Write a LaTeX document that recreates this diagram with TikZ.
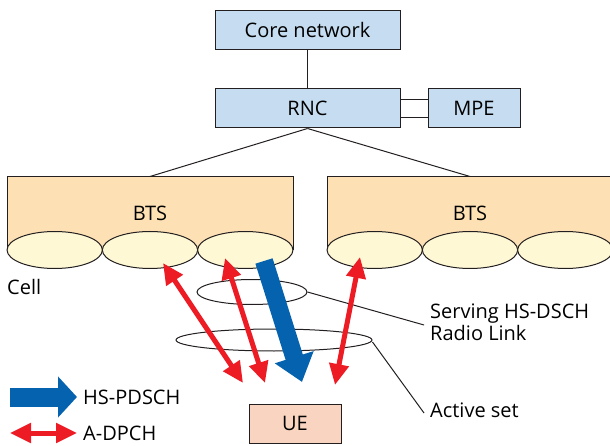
\documentclass[tikz,border=0pt]{standalone}
\usepackage{fontspec}
\setmainfont{Open Sans}
\usetikzlibrary{shapes.geometric,arrows.meta}
\definecolor{boxblue}{HTML}{C6DDF1}
\definecolor{btsfill}{HTML}{FDE1B4}
\definecolor{cellfill}{HTML}{FFF8D5}
\definecolor{uefill}{HTML}{F9D4C0}
\definecolor{dpchred}{HTML}{ED1C24}
\definecolor{hsblue}{HTML}{0462AE}
\definecolor{linegray}{HTML}{231F20}
\tikzset{
  every node/.style={font=\fontsize{20}{22}\selectfont, text=black},
  netbox/.style={draw=linegray, line width=1pt, fill=boxblue, minimum width=185pt, minimum height=39pt, inner sep=0pt},
  btsbox/.style={draw=linegray, line width=1pt, fill=btsfill, minimum width=286pt, minimum height=73pt, inner sep=0pt},
  cell/.style={ellipse, draw=linegray, line width=1pt, fill=cellfill, minimum width=95.3pt, minimum height=37pt, inner sep=0pt},
  ring/.style={ellipse, draw=linegray, line width=1pt, inner sep=0pt},
  wire/.style={draw=linegray, line width=1pt},
  dpch/.style={draw=dpchred, line width=5pt, {Triangle[length=21pt,width=19pt]}-{Triangle[length=21pt,width=19pt]}},
  hsdsch/.style={draw=hsblue, line width=18pt, -{Triangle[length=26pt,width=39pt]}}
}
\begin{document}
\begin{tikzpicture}[x=1pt,y=-1pt]
\useasboundingbox (0,0) rectangle (610,446);
\clip (0,0) rectangle (610,446);

% network side
\node[netbox] (core) at (307.5,30.5) {Core network};
\node[netbox] (rnc) at (307.5,108.5) {RNC};
\node[netbox, minimum width=92pt] (mpe) at (474,108.5) {MPE};
\draw[wire] (core) -- (rnc);
\draw[wire] ([yshift=9pt]rnc.east) -- ([yshift=9pt]mpe.west);
\draw[wire] ([yshift=-9pt]rnc.east) -- ([yshift=-9pt]mpe.west);

% base stations
\node[btsbox] (btsL) at (150,213.5) {BTS};
\node[btsbox] (btsR) at (470,213.5) {BTS};
\draw[wire] (rnc.south) -- (btsL.north);
\draw[wire] (rnc.south) -- (btsR.north);

\node[cell] (cellL1) at (54.7,250) {};
\node[cell] (cellL2) at (150,250) {};
\node[cell] (cellL3) at (245.3,250) {};
\node[cell] (cellR1) at (374.7,250) {};
\node[cell] (cellR2) at (470,250) {};
\node[cell] (cellR3) at (565.3,250) {};
\node[anchor=west, inner sep=0pt] (celllbl) at (7,287) {Cell};

% serving link and active set
\node[ring, minimum width=110pt, minimum height=25pt] (srvring) at (252,292) {};
\node[ring, minimum width=196pt, minimum height=22pt] (actring) at (274,340) {};
\node[anchor=west, align=left, inner sep=0pt] (srvlbl) at (430,322) {Serving HS-DSCH\\Radio Link};
\node[anchor=west, inner sep=0pt] (actlbl) at (430,410) {Active set};
\coordinate (srvend) at (424,325);
\coordinate (actend) at (424,413);
\draw[wire] (srvring.east) -- (srvend);
\draw[wire] ([yshift=-2pt]actring.east) -- (actend);

% radio channels
\node[netbox, fill=uefill, minimum width=92pt] (ue) at (295,423.5) {UE};
\coordinate (dpA1) at (163,263);
\coordinate (dpA2) at (243,383);
\coordinate (dpB1) at (225,258);
\coordinate (dpB2) at (265,383);
\coordinate (dpC1) at (360,257);
\coordinate (dpC2) at (335,385);
\coordinate (hsA1) at (264,261);
\coordinate (hsA2) at (302,382);
\draw[dpch] (dpA1) -- (dpA2);
\draw[dpch] (dpB1) -- (dpB2);
\draw[dpch] (dpC1) -- (dpC2);
\draw[hsdsch] (hsA1) -- (hsA2);

% legend
\node[anchor=west, inner sep=0pt] (lgHS) at (83,397) {HS-PDSCH};
\node[anchor=west, inner sep=0pt] (lgDP) at (83,433) {A-DPCH};
\coordinate (lgHSstart) at (10,397);
\coordinate (lgDPstart) at (10,433);
\draw[hsdsch, line width=19pt, -{Triangle[length=19pt,width=40pt]}] (lgHSstart) -- ([xshift=-6pt]lgHS.west);
\draw[dpch] (lgDPstart) -- ([xshift=-6pt]lgDP.west);
\end{tikzpicture}
\end{document}
